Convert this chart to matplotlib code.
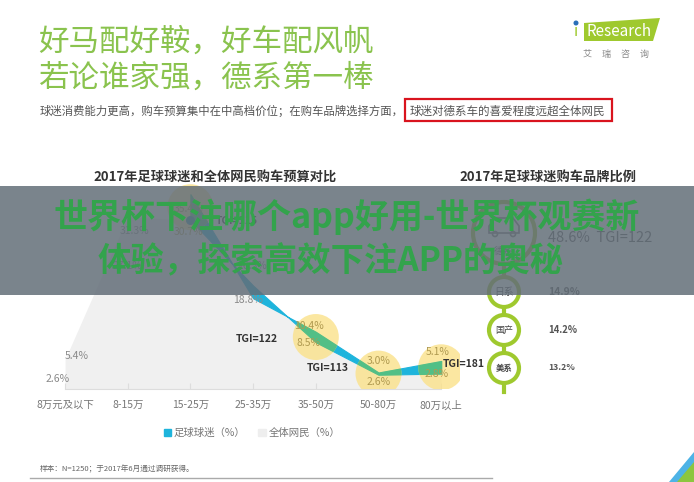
import matplotlib.pyplot as plt
from matplotlib.patches import Rectangle, Circle, Ellipse, Polygon, Patch

plt.rcParams['font.family'] = ['Noto Sans CJK SC', 'DejaVu Sans']

# ---- data ----
budget_labels = ['8万元及以下', '8-15万', '15-25万', '25-35万', '35-50万', '50-80万', '80万以上']
fans_pct = [2.6, 27.1, 35.4, 16.5, 10.4, 3.0, 5.1]        # 足球球迷
netizen_pct = [5.4, 31.3, 30.7, 18.8, 8.5, 2.6, 2.8]      # 全体网民
tgi_idx = [2, 4, 5, 6]
tgi_vals = [115, 122, 113, 181]

brands = ['德系', '日系', '国产', '美系']
brand_pct = [48.6, 14.9, 14.2, 13.2]
de_tgi = 122

title_lines = ['好马配好鞍，好车配风帆', '若论谁家强，德系第一棒']
subtitle = '球迷消费能力更高，购车预算集中在中高档价位；在购车品牌选择方面，'
highlight = '球迷对德系车的喜爱程度远超全体网民'
banner = ['世界杯下注哪个app好用-世界杯观赛新', '体验，探索高效下注APP的奥秘']

# ---- layout (pixels) ----
W, H = 694, 482
CYAN = '#1eb4dc'
GREEN_RIB = '#52bf86'
YELLOW = '#fbe28a'
LIME = '#9fc92e'

fig = plt.figure(figsize=(W / 100, H / 100), dpi=100)

# budget chart
y_scale = 5.5     # px per percent
x_step = 420 / 6.7
ax = fig.add_axes([40 / W, (H - 389) / H, 420 / W, 38 * y_scale / H], zorder=1)
ax.set_xlim(-0.4, 6.3)
ax.set_ylim(0, 38)
ax.patch.set_alpha(0)
for s in ['top', 'right', 'left']:
    ax.spines[s].set_visible(False)
ax.spines['bottom'].set_color('#dddddd')
ax.spines['bottom'].set_bounds(0, len(budget_labels) - 1)
ax.set_yticks([])
x = list(range(len(budget_labels)))
ax.set_xticks(x)
ax.set_xticklabels(budget_labels, fontsize=7.5, color='#777777')
ax.tick_params(axis='x', direction='in', length=4, color='#dddddd', pad=8)

ax.fill_between(x, 0, netizen_pct, color='#f0f0f0', lw=0, zorder=1)
ax.fill_between(x[2:], fans_pct[2:], netizen_pct[2:], color=CYAN, lw=0.8,
                edgecolor=CYAN, zorder=2)

for i in tgi_idx:
    cy = (fans_pct[i] + netizen_pct[i]) / 2
    e = Ellipse((i, cy), 2 * 23 / x_step, 2 * 23 / y_scale, facecolor=YELLOW,
                alpha=0.8, lw=0, zorder=3)
    ax.add_patch(e)
    rib = ax.fill_between(x[2:], fans_pct[2:], netizen_pct[2:], color=GREEN_RIB,
                          lw=0.8, edgecolor=GREEN_RIB, zorder=4)
    rib.set_clip_path(e)

ax.scatter([2], [netizen_pct[2]], s=30, color='#2d8ca6', zorder=5)

# value labels: offsets in pixels from the data point
fans_off = [(-7, -4), (0, -26), (-2, -15), (-1, 32), (-7, 6), (0, 11), (-4, 9)]
net_off = [(12, 3), (7, -14), (-2, -12), (-5, -14), (-7, -1), (0, -7), (-5, 0)]
for i in x:
    col = '#b09a50' if i in tgi_idx else '#8a8a8a'
    ax.annotate(f'{fans_pct[i]:.1f}%', (i, fans_pct[i]), xytext=fans_off[i],
                textcoords='offset pixels', ha='center', va='center',
                fontsize=7.5, color=col, zorder=6)
    ax.annotate(f'{netizen_pct[i]:.1f}%', (i, netizen_pct[i]), xytext=net_off[i],
                textcoords='offset pixels', ha='center', va='center',
                fontsize=7.5, color=col, zorder=6)

tgi_off = [(46, -1), (-59, 3), (-51, 7), (2, 10)]
tgi_ha = ['center', 'center', 'center', 'left']
for i, v, off, ha in zip(tgi_idx, tgi_vals, tgi_off, tgi_ha):
    ax.annotate(f'TGI={v}', (i, netizen_pct[i]), xytext=off,
                textcoords='offset pixels', ha=ha, va='center',
                fontsize=7.5, fontweight='bold', color='#333333', zorder=6)

fig.legend([Patch(color=CYAN), Patch(color='#eeeeee')],
           ['足球球迷（%）', '全体网民（%）'], loc='center',
           bbox_to_anchor=(252 / W, 1 - 433 / H), ncol=2, frameon=False,
           fontsize=7.5, labelcolor='#777777', handlelength=0.7,
           handleheight=0.7, handletextpad=0.3, columnspacing=1.2)

# pixel overlay for everything else
pa = fig.add_axes([0, 0, 1, 1], zorder=3)
pa.set_xlim(0, W)
pa.set_ylim(H, 0)
pa.axis('off')
pa.patch.set_alpha(0)

for k, line in enumerate(title_lines):
    pa.text(38, 42 + k * 36, line, fontsize=22, color='#8ac34e', va='center')
pa.text(40, 111, subtitle, fontsize=8.2, color='#555555', va='center')
pa.text(410, 111, highlight, fontsize=8.3, color='#555555', va='center')
pa.add_patch(Rectangle((405, 99), 207, 22, fill=False, ec='#d9141e', lw=1.6))

# logo
pa.add_patch(Polygon([(584, 23), (660, 18), (653, 41), (584, 41)], color=LIME, lw=0))
pa.text(587, 31, 'Research', fontsize=11, color='white', va='center')
pa.text(574, 32, 'ı', fontsize=11, color=LIME, va='center')
pa.add_patch(Circle((576, 23), 1.8, color='#2a6fb8'))
pa.text(616, 54, '艾     瑞     咨     询', fontsize=6.5, color='#888888',
        ha='center', va='center')

pa.text(215, 178, '2017年足球球迷和全体网民购车预算对比', fontsize=9.5,
        fontweight='bold', color='#333333', ha='center', va='center')
pa.text(548, 178, '2017年足球球迷购车品牌比例', fontsize=9.5,
        fontweight='bold', color='#333333', ha='center', va='center')

# brand chain
cx = 504
pa.plot([cx, cx], [240, 392], color=LIME, lw=3, zorder=1)
pa.add_patch(Circle((cx, 233), 31, facecolor='white', edgecolor=LIME, lw=3, zorder=2))
pa.add_patch(Polygon([(489, 226), (495, 218), (513, 218), (519, 226), (519, 233),
                      (489, 233)], closed=True, fill=False, ec='#777777', lw=1.2, zorder=3))
pa.add_patch(Circle((495, 234), 2.5, fill=False, ec='#777777', lw=1.2, zorder=3))
pa.add_patch(Circle((513, 234), 2.5, fill=False, ec='#777777', lw=1.2, zorder=3))
pa.text(cx, 251, brands[0], fontsize=7, color='#666666', ha='center', va='center', zorder=3)
pa.text(548, 238, f'{brand_pct[0]:.1f}%  TGI={de_tgi}', fontsize=10.5,
        color='#555555', va='center')
for k, (b, p) in enumerate(zip(brands[1:], brand_pct[1:])):
    cy = 292 + 38 * k
    pa.add_patch(Circle((cx, cy), 15, facecolor='white', edgecolor=LIME, lw=3, zorder=2))
    pa.text(cx, cy, b, fontsize=7 - k * 0.5, color='#444444', ha='center',
            va='center', zorder=3, fontweight='bold' if k == 2 else 'normal')
    pa.text(548, cy, f'{p:.1f}%', fontsize=7.5 - k * 0.6, color='#555555',
            fontweight='bold', va='center')

# footer
pa.text(40, 469, '样本：N=1250；于2017年6月通过调研获得。', fontsize=5.5,
        color='#666666', va='center')
pa.plot([30, 492], [478, 478], color='#aaaaaa', lw=1)
pa.add_patch(Polygon([(669, H), (W, 452), (W, H)], color='#4db3e6', lw=0))
pa.add_patch(Polygon([(677, H), (W, 462), (W, H)], color='#8cc63f', lw=0))

# banner overlay
pa.add_patch(Rectangle((0, 186), W, 109, color='#636e78', alpha=0.85, lw=0, zorder=10))
pa.text(347, 217, banner[0], fontsize=24.5, fontweight='bold', color='#33a34c',
        ha='center', va='center', zorder=11)
pa.text(331, 262, banner[1], fontsize=24, fontweight='bold', color='#33a34c',
        ha='center', va='center', zorder=11)

fig.savefig('out.png', dpi=100)
